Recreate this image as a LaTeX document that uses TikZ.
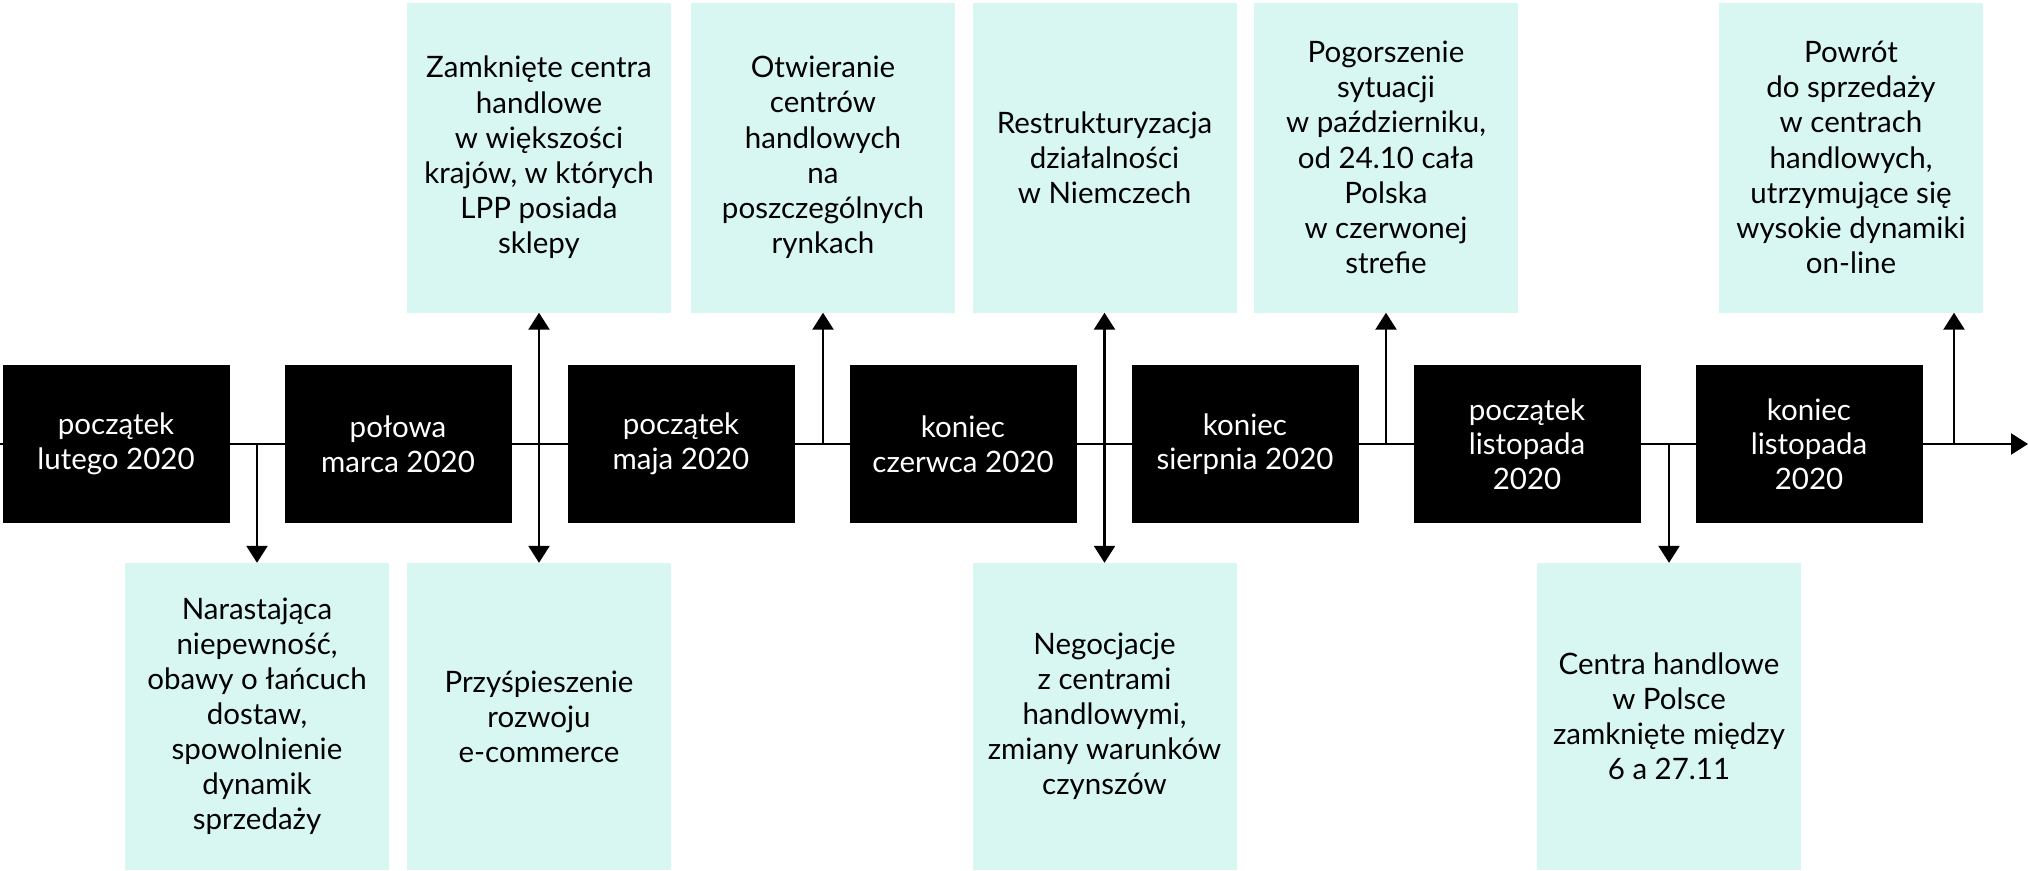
\documentclass[tikz,border=0pt]{standalone}
\usepackage{fontspec}
\setmainfont{Lato}
\usetikzlibrary{arrows.meta,backgrounds}
\definecolor{mint}{RGB}{216,247,242}
\begin{document}
\begin{tikzpicture}[x=1pt,y=-1pt,
  datebox/.style={fill=black,text=white,minimum width=227pt,minimum height=158pt,inner sep=0pt,align=center,
    font=\fontsize{29.5}{34.5}\selectfont},
  evtop/.style={fill=mint,text=black,minimum width=264pt,minimum height=310pt,inner sep=0pt,align=center,
    font=\fontsize{29.5}{35.2}\selectfont},
  evbot/.style={fill=mint,text=black,minimum width=264pt,minimum height=307pt,inner sep=0pt,align=center,
    font=\fontsize{29.5}{35}\selectfont},
  conn/.style={line width=2.5pt,-{Triangle[width=21pt,length=17pt]}},
  axis/.style={line width=2.5pt,-{Triangle[width=21pt,length=17pt]}}
]
\useasboundingbox (0,0) rectangle (2028,870);

% date boxes
\node[datebox] (d1) at (116,444) {początek\\lutego 2020};
\node[datebox] (d2) at (398,444) {połowa\\marca 2020};
\node[datebox] (d3) at (681,444) {początek\\maja 2020};
\node[datebox] (d4) at (963,444) {koniec\\czerwca 2020};
\node[datebox] (d5) at (1245,444) {koniec\\sierpnia 2020};
\node[datebox] (d6) at (1527,444) {początek\\listopada\\2020};
\node[datebox] (d7) at (1809,444) {koniec\\listopada\\2020};

% top event boxes
\node[evtop] (A) at (539,157.5) {Zamknięte centra\\handlowe\\w większości\\krajów, w których\\LPP posiada\\sklepy};
\node[evtop] (B) at (823,157.5) {Otwieranie\\centrów\\handlowych\\na\\poszczególnych\\rynkach};
\node[evtop] (C) at (1104.5,157.5) {Restrukturyzacja\\działalności\\w Niemczech};
\node[evtop] (D) at (1386,157.5) {Pogorszenie\\sytuacji\\w październiku,\\od 24.10 cała\\Polska\\w czerwonej\\strefie};
\node[evtop] (E) at (1851,157.5) {Powrót\\do sprzedaży\\w centrach\\handlowych,\\utrzymujące się\\wysokie dynamiki\\on-line};

% bottom event boxes
\node[evbot] (F) at (257,716.5) {Narastająca\\niepewność,\\obawy o łańcuch\\dostaw,\\spowolnienie\\dynamik\\sprzedaży};
\node[evbot] (G) at (539,716.5) {Przyśpieszenie\\rozwoju\\e-commerce};
\node[evbot] (H) at (1104.5,716.5) {Negocjacje\\z centrami\\handlowymi,\\zmiany warunków\\czynszów};
\node[evbot] (I) at (1669,716.5) {Centra handlowe\\w Polsce\\zamknięte między\\6 a 27.11};

% timeline coordinates
\coordinate (t0) at (0,444);
\coordinate (tend) at (2028,444);
\coordinate (tF) at (257,444);
\coordinate (tA) at (539,444);
\coordinate (tB) at (823,444);
\coordinate (tC) at (1104.5,444);
\coordinate (tD) at (1386,444);
\coordinate (tI) at (1669,444);
\coordinate (tE) at (1954,444);

\begin{scope}[on background layer]
\draw[axis] (t0) -- (tend);
\end{scope}
\draw[conn] (tF) -- (F.north);
\draw[conn] (tA) -- (A.south);
\draw[conn] (tA) -- (G.north);
\draw[conn] (tB) -- (B.south);
\draw[conn] (tC) -- (C.south);
\draw[conn] (tC) -- (H.north);
\draw[conn] (tD) -- (D.south);
\draw[conn] (tI) -- (I.north);
\draw[conn] (tE) -- (tE |- E.south);
\end{tikzpicture}
\end{document}
